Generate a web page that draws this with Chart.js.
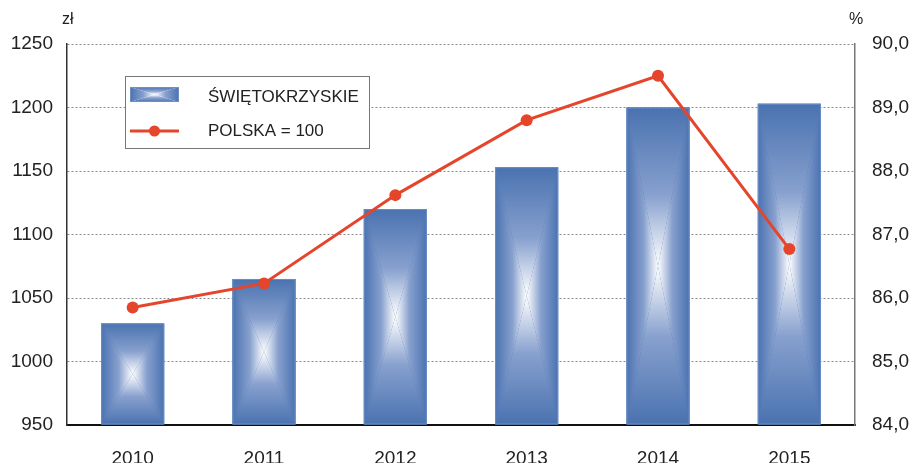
<!DOCTYPE html>
<html>
<head>
<meta charset="utf-8">
<script src="https://cdn.jsdelivr.net/npm/chart.js@4.4.0/dist/chart.umd.min.js"></script>
<style>
html,body{margin:0;padding:0;background:#fff;}
#wrap{width:912px;height:463px;position:relative;}
</style>
</head>
<body>
<div id="wrap"><canvas id="c" width="912" height="463"></canvas></div>
<script>
const categories = ['2010','2011','2012','2013','2014','2015'];
const barValues = [1030, 1065, 1120, 1153, 1200, 1203];
const lineValues = [85.85, 86.23, 87.62, 88.8, 89.5, 86.77];
const leftRange = [950, 1250, 50];
const rightRange = [84, 90, 1];
const barLabel = 'ŚWIĘTOKRZYSKIE';
const lineLabel = 'POLSKA = 100';
const leftUnit = 'zł';
const rightUnit = '%';

const EDGE = 'rgb(74,114,176)';
const MID = 'rgb(135,160,206)';
const CENTER = 'rgb(255,255,255)';
const RED = '#e4452b';
const FONT = '"Liberation Sans", Arial, sans-serif';

function gradRect(ctx, L, T, R, B) {
  const cx = (L + R) / 2, cy = (T + B) / 2;
  const tris = [
    [[L,T],[R,T],[cx,T],[cx,cy]],
    [[L,B],[R,B],[cx,B],[cx,cy]],
    [[L,T],[L,B],[L,cy],[cx,cy]],
    [[R,T],[R,B],[R,cy],[cx,cy]]
  ];
  tris.forEach(t => {
    const g = ctx.createLinearGradient(t[2][0], t[2][1], t[3][0], t[3][1]);
    g.addColorStop(0, EDGE);
    g.addColorStop(0.55, MID);
    g.addColorStop(1, CENTER);
    ctx.fillStyle = g;
    ctx.beginPath();
    ctx.moveTo(t[0][0], t[0][1]);
    ctx.lineTo(t[1][0], t[1][1]);
    ctx.lineTo(cx, cy);
    ctx.closePath();
    ctx.fill();
  });
}

const barGlow = {
  id: 'barGlow',
  afterDatasetDraw(chart, args) {
    if (args.index !== 0) return;
    const ctx = chart.ctx;
    ctx.save();
    args.meta.data.forEach(el => {
      const p = el.getProps(['x','y','base','width'], true);
      const L = p.x - p.width / 2, R = p.x + p.width / 2;
      const T = Math.min(p.y, p.base), B = Math.max(p.y, p.base);
      gradRect(ctx, L, T, R, B);
      ctx.strokeStyle = 'rgba(110,145,200,0.9)';
      ctx.lineWidth = 1;
      ctx.strokeRect(L + 0.5, T + 0.5, R - L - 1, B - T - 1);
    });
    ctx.restore();
  }
};

const extras = {
  id: 'extras',
  afterDraw(chart) {
    const ctx = chart.ctx;
    ctx.save();
    ctx.fillStyle = '#222';
    ctx.font = '16px ' + FONT;
    ctx.textBaseline = 'middle';
    ctx.textAlign = 'left';
    ctx.fillText(leftUnit, 62, 20);
    ctx.fillText(rightUnit, 849, 20);
    // legend
    ctx.fillStyle = '#fff';
    ctx.fillRect(125, 76, 244, 72);
    ctx.strokeStyle = '#777';
    ctx.lineWidth = 1;
    ctx.strokeRect(125.5, 76.5, 244, 72);
    gradRect(ctx, 130, 87, 179, 102);
    ctx.strokeStyle = 'rgba(110,145,200,0.9)';
    ctx.strokeRect(130.5, 87.5, 48, 14);
    ctx.strokeStyle = RED;
    ctx.lineWidth = 3;
    ctx.beginPath();
    ctx.moveTo(130, 131);
    ctx.lineTo(179, 131);
    ctx.stroke();
    ctx.fillStyle = RED;
    ctx.beginPath();
    ctx.arc(154.5, 131, 5.5, 0, Math.PI * 2);
    ctx.fill();
    ctx.fillStyle = '#222';
    ctx.font = '17px ' + FONT;
    ctx.fillText(barLabel, 208, 97);
    ctx.fillText(lineLabel, 208, 131);
    ctx.restore();
  }
};

new Chart(document.getElementById('c'), {
  type: 'bar',
  data: {
    labels: categories,
    datasets: [
      {
        type: 'bar',
        label: barLabel,
        data: barValues,
        base: leftRange[0],
        yAxisID: 'y',
        backgroundColor: EDGE,
        borderWidth: 0,
        barPercentage: 0.8,
        categoryPercentage: 0.6,
        order: 2
      },
      {
        type: 'line',
        label: lineLabel,
        data: lineValues,
        yAxisID: 'y1',
        borderColor: RED,
        backgroundColor: RED,
        borderWidth: 3,
        pointRadius: 6,
        pointHoverRadius: 6,
        pointBackgroundColor: RED,
        pointBorderWidth: 0,
        tension: 0,
        order: 1
      }
    ]
  },
  options: {
    responsive: false,
    animation: false,
    events: [],
    layout: { padding: { top: 44, left: 0, right: 0, bottom: 0 } },
    plugins: { legend: { display: false }, tooltip: { enabled: false } },
    scales: {
      x: {
        offset: true,
        grid: { display: false, drawTicks: false },
        border: { display: true, color: '#111', width: 2 },
        ticks: { color: '#222', font: { family: FONT, size: 19 }, padding: 22 },
        afterFit(s) { s.height = 38; }
      },
      y: {
        position: 'left',
        beginAtZero: false,
        min: leftRange[0], max: leftRange[1],
        ticks: {
          stepSize: leftRange[2], color: '#222', font: { family: FONT, size: 19 }, padding: 14,
          callback: v => String(v)
        },
        grid: {
          drawTicks: false,
          color: ctx => ctx.tick && ctx.tick.value === leftRange[0] ? 'rgba(0,0,0,0)' : '#8a8a8a',
          lineWidth: 1
        },
        border: { display: true, color: '#333', width: 1.5, dash: [2, 2] },
        afterFit(s) { s.width = 67; }
      },
      y1: {
        position: 'right',
        beginAtZero: false,
        min: rightRange[0], max: rightRange[1],
        ticks: {
          stepSize: rightRange[2], color: '#222', font: { family: FONT, size: 19 }, padding: 17,
          callback: v => v.toFixed(1).replace('.', ',')
        },
        grid: { display: false, drawTicks: false },
        border: { display: true, color: '#777', width: 1.5 },
        afterFit(s) { s.width = 57; }
      }
    }
  },
  plugins: [barGlow, extras]
});
</script>
</body>
</html>
